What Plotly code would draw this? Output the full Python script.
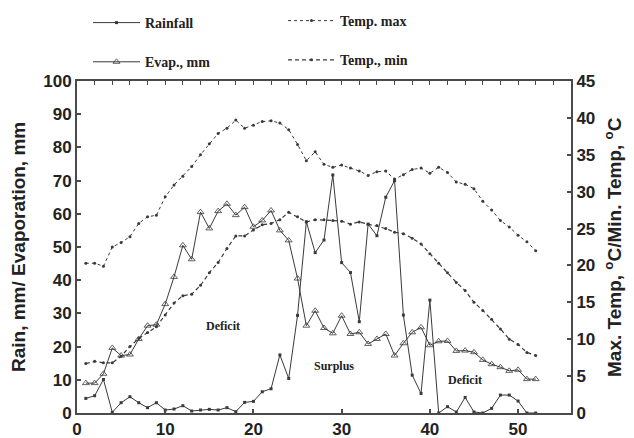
import plotly.graph_objects as go

weeks = list(range(1, 53))

rainfall = [4.4, 5.2, 10.1, 0.2, 3.1, 4.9, 3.1, 1.6, 3.1, 0.9,
            1.2, 2.2, 0.6, 0.9, 1.1, 0.9, 1.6, 0.4, 3.2, 3.5,
            6.4, 7.3, 17.5, 10.4, 29.4, 57.6, 48.3, 52.1, 71.7, 45.3,
            42.3, 27.5, 56.9, 53.4, 65.0, 70.0, 29.5, 11.4, 5.9, 34.0,
            0.0, 1.9, 0.3, 4.7, 0.3, 0.0, 1.4, 5.4, 5.4, 3.6, 0.0, 0.0]

evap = [9.0, 9.0, 11.8, 19.6, 17.3, 17.6, 22.3, 26.3, 26.6, 32.8,
        41.0, 50.5, 46.3, 60.5, 55.6, 60.8, 63.0, 59.6, 62.0, 56.1,
        58.0, 61.0, 55.0, 52.0, 40.5, 26.3, 30.8, 25.6, 24.0, 29.3,
        23.8, 24.3, 20.8, 22.3, 23.8, 17.3, 21.0, 24.3, 25.8, 20.4,
        21.6, 21.7, 18.7, 18.8, 18.3, 16.0, 14.7, 13.8, 12.7, 13.0, 10.2, 10.2]

temp_max = [20.3, 20.3, 19.9, 22.5, 23.1, 23.9, 25.7, 26.6, 26.8, 29.3,
            30.9, 32.1, 33.4, 35.0, 36.5, 37.9, 38.6, 39.7, 38.6, 39.0,
            39.5, 39.6, 39.3, 38.4, 36.4, 34.2, 35.4, 33.7, 33.3, 33.6,
            33.2, 32.8, 32.2, 32.7, 32.8, 31.7, 32.3, 33.0, 33.2, 32.5,
            33.3, 32.6, 31.3, 31.0, 30.4, 28.7, 27.5, 26.1, 25.2, 24.1, 23.2, 22.0]

temp_min = [6.7, 7.0, 6.8, 6.8, 7.7, 9.0, 10.1, 10.9, 11.7, 13.3,
            14.9, 15.9, 16.1, 17.3, 19.0, 20.4, 22.3, 24.0, 24.0, 24.8,
            25.5, 25.7, 26.2, 27.2, 26.6, 25.9, 26.2, 26.2, 26.1, 26.0,
            25.6, 25.9, 25.6, 25.4, 25.0, 24.5, 24.3, 23.7, 22.9, 21.6,
            20.3, 19.0, 17.7, 16.6, 15.0, 13.9, 12.7, 11.4, 10.0, 9.3, 8.2, 7.8]

x_ticks = [0, 10, 20, 30, 40, 50]
left_ticks = list(range(0, 101, 10))
right_ticks = list(range(0, 46, 5))

annotations_text = [("Deficit", 16.6, 26.3), ("Surplus", 29.1, 14.2), ("Deficit", 44.0, 9.9)]

left_title = "Rain, mm/ Evaporation, mm"
right_title = "Max. Temp, <sup>o</sup>C/Min. Temp, <sup>o</sup>C"

LINE = "#3a3a3a"
AXIS = "#4a4a4a"
SANS = "Arial, Liberation Sans, sans-serif"
SERIF = "Times New Roman, Liberation Serif, serif"

fig = go.Figure()

fig.add_trace(go.Scatter(
    x=weeks, y=rainfall, name="<b>Rainfall</b>", mode="lines+markers",
    line=dict(color=LINE, width=1), marker=dict(symbol="square", size=3, color=LINE),
    legend="legend", legendgroup="a"))
fig.add_trace(go.Scatter(
    x=weeks, y=evap, name="<b>Evap., mm</b>", mode="lines+markers",
    line=dict(color=LINE, width=1),
    marker=dict(symbol="triangle-up-open", size=6, color=LINE, line=dict(width=0.8)),
    legend="legend", legendgroup="b"))
fig.add_trace(go.Scatter(
    x=weeks, y=temp_max, name="<b>Temp. max</b>", mode="lines+markers", yaxis="y2",
    line=dict(color=LINE, width=1, dash="dot"), marker=dict(symbol="circle", size=3, color=LINE),
    legend="legend2", legendgroup="c"))
fig.add_trace(go.Scatter(
    x=weeks, y=temp_min, name="<b>Temp., min</b>", mode="lines+markers", yaxis="y2",
    line=dict(color=LINE, width=1.2, dash="4px,3px"), marker=dict(symbol="circle", size=3, color=LINE),
    legend="legend2", legendgroup="d"))
# invisible trace to carry the top minor-tick axis
fig.add_trace(go.Scatter(x=[0, 56], y=[0, 0], xaxis="x2", mode="lines",
                         line=dict(width=0), showlegend=False, hoverinfo="skip"))

for txt, xv, yv in annotations_text:
    fig.add_annotation(x=xv, y=yv, text=f"<b>{txt}</b>", showarrow=False,
                       font=dict(family=SERIF, size=12, color="#222"))

title_font = dict(family=SANS, size=19, color="#222")
fig.add_annotation(xref="paper", yref="paper", x=(18 - 77) / 494, y=0.5, textangle=-90,
                   text=f"<b>{left_title}</b>", showarrow=False, font=title_font,
                   xanchor="center", yanchor="middle")
fig.add_annotation(xref="paper", yref="paper", x=(613 - 77) / 494, y=0.5, textangle=-90,
                   text=f"<b>{right_title}</b>", showarrow=False, font=title_font,
                   xanchor="center", yanchor="middle")

axis_font = dict(family=SANS, size=17, color="#222", weight="bold")

fig.update_layout(
    width=634, height=438,
    margin=dict(l=77, r=63, t=81, b=25, autoexpand=False),
    plot_bgcolor="white", paper_bgcolor="white",
    showlegend=True,
    xaxis=dict(range=[0, 56], tickvals=x_ticks, ticks="inside", ticklen=4, tickwidth=1.5,
               tickcolor=AXIS, showline=True, linecolor=AXIS, linewidth=2, mirror=True,
               showgrid=False, zeroline=False, tickfont=axis_font),
    xaxis2=dict(range=[0, 56], overlaying="x", side="top", anchor="y", dtick=2, tick0=0,
                ticks="inside", ticklen=4, tickwidth=1.2, tickcolor=AXIS,
                showticklabels=False, showline=False, showgrid=False, zeroline=False),
    yaxis=dict(range=[0, 100], tickvals=left_ticks, ticks="inside", ticklen=4, tickwidth=1.5,
               tickcolor=AXIS, showline=True, linecolor=AXIS, linewidth=2,
               showgrid=False, zeroline=False, tickfont=axis_font),
    yaxis2=dict(range=[0, 45], tickvals=right_ticks, overlaying="y", side="right",
                ticks="inside", ticklen=4, tickwidth=1.5, tickcolor=AXIS,
                showline=True, linecolor=AXIS, linewidth=2, showgrid=False, zeroline=False,
                tickfont=axis_font),
    legend=dict(x=88 / 634, xref="container", y=1 - 7 / 438, yref="container",
                xanchor="left", yanchor="top",
                orientation="v", itemwidth=47, tracegroupgap=18, bgcolor="rgba(0,0,0,0)",
                font=dict(family=SERIF, size=14, color="#222")),
    legend2=dict(x=283 / 634, xref="container", y=1 - 5 / 438, yref="container",
                 xanchor="left", yanchor="top",
                 orientation="v", itemwidth=47, tracegroupgap=18, bgcolor="rgba(0,0,0,0)",
                 font=dict(family=SERIF, size=14, color="#222")),
)

fig.write_html("out.html", config={"displayModeBar": False},
               post_script="document.body.style.margin='0';")
